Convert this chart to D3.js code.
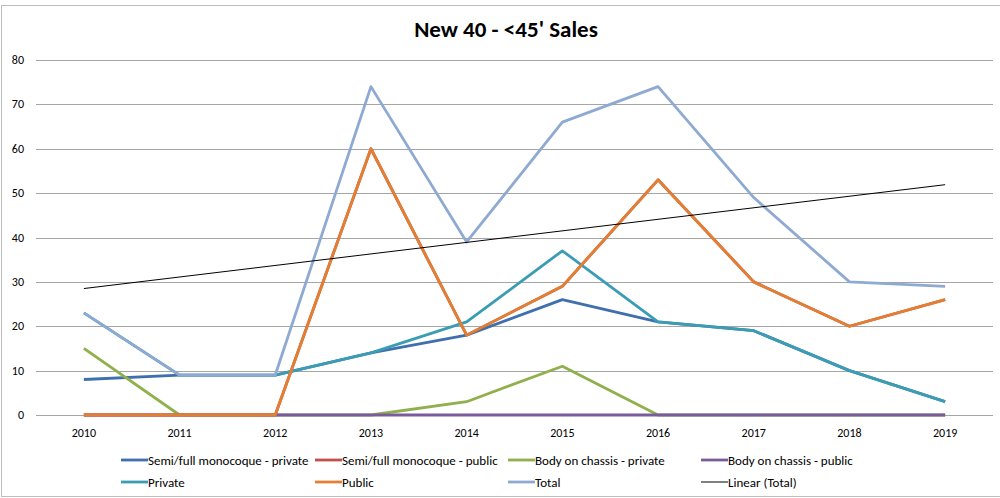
<!DOCTYPE html>
<html>
<head>
<meta charset="utf-8">
<script src="https://cdn.jsdelivr.net/npm/d3@7"></script>
<style>
  body { margin: 0; background: #fff; }
  svg text { font-family: Carlito, 'Liberation Sans Narrow', 'DejaVu Sans Condensed', 'Liberation Sans', sans-serif; fill: #000; }
</style>
</head>
<body>
<svg id="chart" width="1000" height="498"></svg>
<script>
// data
const years = ['2010', '2011', '2012', '2013', '2014', '2015', '2016', '2017', '2018', '2019']
const yTicks = [0, 10, 20, 30, 40, 50, 60, 70, 80]

const semiPrivate = [8, 9, 9, 14, 18, 26, 21, 19, 10, 3]
const semiPublic = [0, 0, 0, 60, 18, 29, 53, 30, 20, 26]
const bodyPrivate = [15, 0, 0, 0, 3, 11, 0, 0, 0, 0]
const bodyPublic = [0, 0, 0, 0, 0, 0, 0, 0, 0, 0]
const privateTotal = [23, 9, 9, 14, 21, 37, 21, 19, 10, 3]
const publicTotal = [0, 0, 0, 60, 18, 29, 53, 30, 20, 26]
const total = [23, 9, 9, 74, 39, 66, 74, 49, 30, 29]
// linear trend of Total, read at first and last year
const linearTotal = [28.5, 51.9]

const seriesNames = ['Semi/full monocoque - private', 'Semi/full monocoque - public',
  'Body on chassis - private', 'Body on chassis - public', 'Private', 'Public', 'Total', 'Linear (Total)']
const seriesColors = ['#3f6fae', '#c0504d', '#8fb04c', '#7a5c9c', '#3b9db3', '#e37f33', '#8eaad2', '#000']

const series = [semiPrivate, semiPublic, bodyPrivate, bodyPublic, privateTotal, publicTotal, total]

const svg = d3.select('#chart')

// chart border
svg.append('rect')
  .attr('x', 1.5).attr('y', 5.5)
  .attr('width', 1010).attr('height', 491)
  .attr('fill', 'none').attr('stroke', '#bdbdbd')

const margin = { top: 60, left: 36, right: 7, bottom: 83 }
const width = 1000 - margin.left - margin.right
const height = 498 - margin.top - margin.bottom

const g = svg.append('g')
  .attr('transform', 'translate(' + margin.left + ',' + margin.top + ')')

const x = d3.scaleBand().domain(years).range([0, width])
const y = d3.scaleLinear().domain([0, 80]).range([height, 0])

// gridlines
g.selectAll('.grid')
  .data(yTicks)
  .enter()
  .append('line')
  .attr('class', 'grid')
  .attr('x1', 0).attr('x2', width)
  .attr('y1', d => Math.round(y(d)) + 0.5)
  .attr('y2', d => Math.round(y(d)) + 0.5)
  .attr('stroke', '#a6a6a6')

// y axis labels
g.selectAll('.ylab')
  .data(yTicks)
  .enter()
  .append('text')
  .attr('x', -12)
  .attr('y', d => y(d) + 4)
  .attr('text-anchor', 'end')
  .style('font-size', '12px')
  .text(d => d)

// x axis labels
g.selectAll('.xlab')
  .data(years)
  .enter()
  .append('text')
  .attr('x', d => x(d) + x.bandwidth() / 2)
  .attr('y', height + 22)
  .attr('text-anchor', 'middle')
  .style('font-size', '12px')
  .text(d => d)

const line = d3.line()
  .x((d, i) => x(years[i]) + x.bandwidth() / 2)
  .y(d => y(d))

series.forEach(function (s, i) {
  g.append('path')
    .datum(s)
    .attr('fill', 'none')
    .attr('stroke', seriesColors[i])
    .attr('stroke-width', 2.8)
    .attr('stroke-linejoin', 'round')
    .attr('d', line)
})

// trend line
g.append('line')
  .attr('x1', x(years[0]) + x.bandwidth() / 2)
  .attr('x2', x(years[years.length - 1]) + x.bandwidth() / 2)
  .attr('y1', y(linearTotal[0]))
  .attr('y2', y(linearTotal[1]))
  .attr('stroke', '#000')
  .attr('stroke-width', 1)

// title
svg.append('text')
  .attr('x', 506)
  .attr('y', 37)
  .attr('text-anchor', 'middle')
  .style('font-size', '23px')
  .style('font-weight', 'bold')
  .text("New 40 - <45' Sales")

// legend, two rows of four
const legendCols = [121, 315, 508, 701]
const legendRows = [460, 482]
const legend = svg.selectAll('.legend')
  .data(seriesNames)
  .enter()
  .append('g')
  .attr('transform', (d, i) => 'translate(' + legendCols[i % 4] + ',' + legendRows[Math.floor(i / 4)] + ')')

legend.append('line')
  .attr('x1', 0).attr('x2', 27)
  .attr('stroke', (d, i) => seriesColors[i])
  .attr('stroke-width', (d, i) => i === 7 ? 1 : 2.8)

legend.append('text')
  .attr('x', 27)
  .attr('y', 4.5)
  .style('font-size', '13px')
  .text(d => d)
</script>
</body>
</html>
